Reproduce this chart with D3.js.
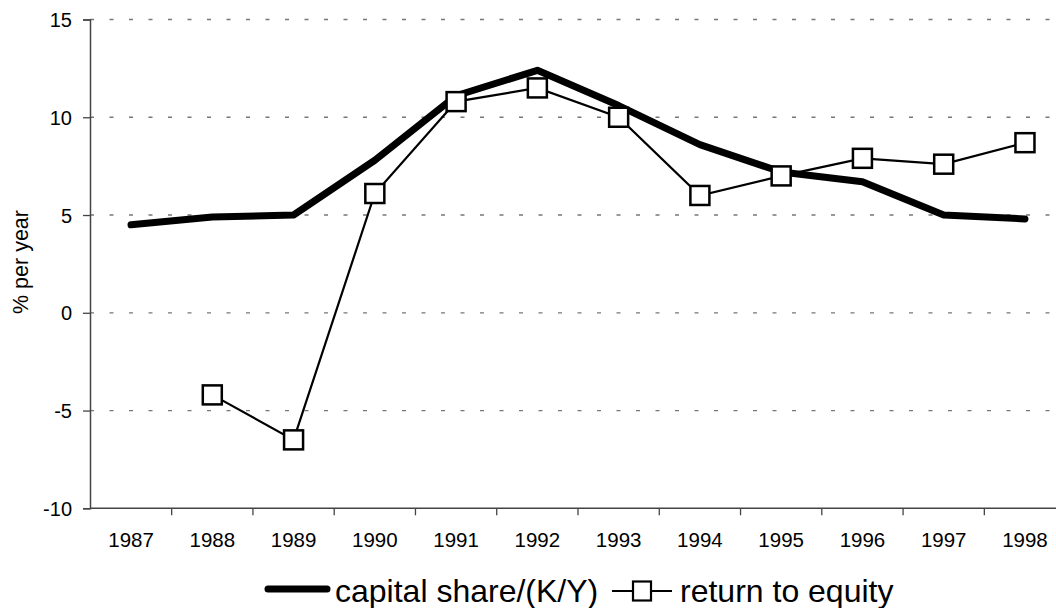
<!DOCTYPE html>
<html>
<head>
<meta charset="utf-8">
<script src="https://cdn.jsdelivr.net/npm/d3@7"></script>
<style>
  body { margin: 0; background: #fff; }
  text { font-family: "Liberation Sans", Arial, sans-serif; }
</style>
</head>
<body>
<svg id="chart" width="1056" height="608"></svg>
<script>
const years = ["1987", "1988", "1989", "1990", "1991", "1992", "1993", "1994", "1995", "1996", "1997", "1998"];
const capitalShare = [4.5, 4.9, 5.0, 7.8, 11.1, 12.4, 10.6, 8.6, 7.2, 6.7, 5.0, 4.8];
const returnToEquity = [null, -4.2, -6.5, 6.1, 10.8, 11.5, 10.0, 6.0, 7.0, 7.9, 7.6, 8.7];
const yTicks = [-10, -5, 0, 5, 10, 15];

const svg = d3.select("#chart");

const x = d3.scaleBand().domain(years).range([90.4, 1065.6]).padding(0);
const y = d3.scaleLinear().domain([-10, 15]).range([508.3, 19.5]);
const cx = (d) => x(d) + x.bandwidth() / 2;

// gridlines
svg.append("g")
  .selectAll("line")
  .data(yTicks.filter((t) => t > -10))
  .join("line")
  .attr("x1", 90)
  .attr("x2", 1066)
  .attr("y1", (d) => y(d))
  .attr("y2", (d) => y(d))
  .attr("stroke", "#777")
  .attr("stroke-width", 1.3)
  .attr("stroke-dasharray", "4,15.5");

// y axis
const yAxis = svg.append("g")
  .attr("transform", `translate(${90},0)`)
  .call(d3.axisLeft(y).tickValues(yTicks).tickSize(7).tickPadding(11).tickFormat(d3.format("d")));
yAxis.select(".domain").attr("stroke", "#444").attr("stroke-width", 1.5);
yAxis.selectAll(".tick line").attr("stroke", "#444").attr("stroke-width", 1.3);
yAxis.selectAll(".tick text").attr("font-size", 20).attr("fill", "#000").attr("dy", "0.36em")
  .text((d) => (d < 0 ? "-" + Math.abs(d) : d));

// x axis
const xAxis = svg.append("g")
  .attr("transform", `translate(0,${y(-10)})`)
  .call(d3.axisBottom(x).tickSize(0).tickPadding(24));
xAxis.select(".domain").attr("stroke", "#444").attr("stroke-width", 1.5)
  .attr("d", `M90,0H1066`);
xAxis.selectAll(".tick text").attr("font-size", 20.5).attr("fill", "#000");
xAxis.append("g")
  .selectAll("line")
  .data(years.slice(1))
  .join("line")
  .attr("x1", (d) => x(d))
  .attr("x2", (d) => x(d))
  .attr("y1", 0)
  .attr("y2", 7)
  .attr("stroke", "#444")
  .attr("stroke-width", 1.3);

// y title
svg.append("text")
  .attr("transform", `translate(${28},${262})rotate(-90)`)
  .attr("text-anchor", "middle")
  .attr("font-size", 21.5)
  .text("% per year");

// capital share line
const capLine = d3.line()
  .x((d, i) => cx(years[i]))
  .y((d) => y(d));
svg.append("path")
  .datum(capitalShare)
  .attr("d", capLine)
  .attr("fill", "none")
  .attr("stroke", "#000")
  .attr("stroke-width", 7)
  .attr("stroke-linejoin", "round")
  .attr("stroke-linecap", "round");

// return to equity line + markers
const retData = returnToEquity.map((v, i) => ({ year: years[i], v })).filter((d) => d.v !== null);
const retLine = d3.line()
  .x((d) => cx(d.year))
  .y((d) => y(d.v));
svg.append("path")
  .datum(retData)
  .attr("d", retLine)
  .attr("fill", "none")
  .attr("stroke", "#000")
  .attr("stroke-width", 2.2);
svg.append("g")
  .selectAll("rect")
  .data(retData)
  .join("rect")
  .attr("x", (d) => cx(d.year) - 9.5)
  .attr("y", (d) => y(d.v) - 9.5)
  .attr("width", 19)
  .attr("height", 19)
  .attr("fill", "#fff")
  .attr("stroke", "#000")
  .attr("stroke-width", 2.5);

// legend
const legend = svg.append("g").attr("transform", `translate(0,${591})`);
legend.append("line")
  .attr("x1", 268).attr("x2", 327).attr("y1", -2).attr("y2", -2)
  .attr("stroke", "#000").attr("stroke-width", 7).attr("stroke-linecap", "round");
legend.append("text")
  .attr("x", 335).attr("y", 11)
  .attr("font-size", 32)
  .text("capital share/(K/Y)");
legend.append("line")
  .attr("x1", 612).attr("x2", 672).attr("y1", 0).attr("y2", 0)
  .attr("stroke", "#000").attr("stroke-width", 2);
legend.append("rect")
  .attr("x", 633).attr("y", -9.5).attr("width", 18).attr("height", 19)
  .attr("fill", "#fff").attr("stroke", "#000").attr("stroke-width", 2.2);
legend.append("text")
  .attr("x", 680).attr("y", 11)
  .attr("font-size", 32)
  .text("return to equity");
</script>
</body>
</html>
